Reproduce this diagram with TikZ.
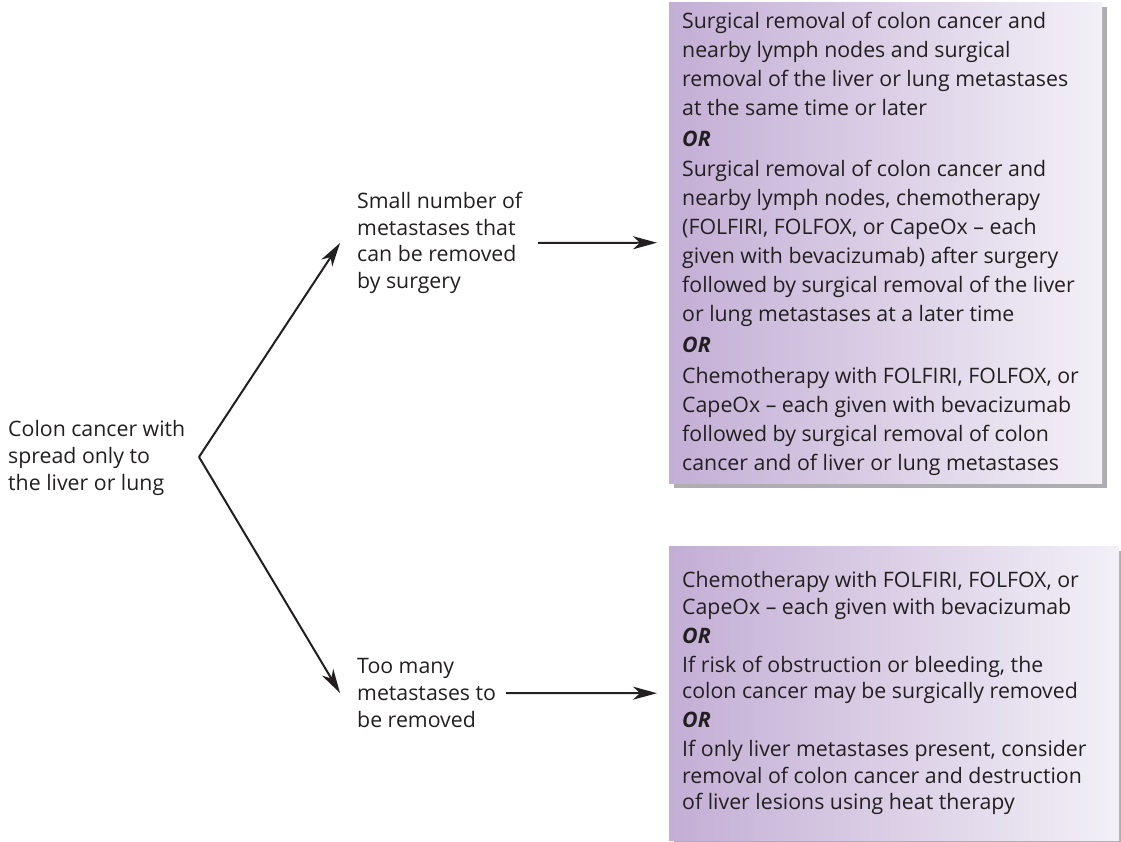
\documentclass[tikz,border=0pt]{standalone}
\usepackage{fontspec}
\setmainfont{Open Sans}
\usetikzlibrary{arrows.meta,shadows}
\definecolor{txt}{HTML}{231F20}
\definecolor{boxL}{HTML}{C3AED5}
\definecolor{boxR}{HTML}{F3F0F7}
\definecolor{shad}{HTML}{AEAEB2}
\newcommand{\orword}{\textbf{\textit{OR}}}
\begin{document}
\begin{tikzpicture}[x=1pt,y=-1pt,
  every node/.style={text=txt, inner sep=0pt},
  lbl/.style={align=left, anchor=west, font=\fontsize{21.3}{26.7}\selectfont},
  boxtxt/.style={align=left, anchor=west},
  treatbox/.style={draw=none, left color=boxL, right color=boxR, anchor=north west,
     drop shadow={shadow xshift=5pt, shadow yshift=-5pt, fill=shad, opacity=1}},
  conn/.style={draw=txt, line width=2pt, -{Stealth[length=24pt,width=13pt,inset=7pt]}}]
\useasboundingbox (0,0) rectangle (1121,842);
% boxes
\node[treatbox, minimum width=433pt, minimum height=481pt] (b1) at (669,2) {};
\node[treatbox, minimum width=450pt, minimum height=294pt] (b2) at (669,546) {};
\node[boxtxt, font=\fontsize{21.3}{29}\selectfont] (t1) at ([xshift=13pt,yshift=-1pt]b1.west) {Surgical removal of colon cancer and\\
nearby lymph nodes and surgical\\
removal of the liver or lung metastases\\
at the same time or later\\[1.75pt]
\orword\\[1.75pt]
Surgical removal of colon cancer and\\
nearby lymph nodes, chemotherapy\\
(FOLFIRI, FOLFOX, or CapeOx – each\\
given with bevacizumab) after surgery\\
followed by surgical removal of the liver\\
or lung metastases at a later time\\[1.75pt]
\orword\\[1.75pt]
Chemotherapy with FOLFIRI, FOLFOX, or\\
CapeOx – each given with bevacizumab\\
followed by surgical removal of colon\\
cancer and of liver or lung metastases};
\node[boxtxt, font=\fontsize{21.3}{26.5}\selectfont] (t2) at ([xshift=13pt]b2.west) {Chemotherapy with FOLFIRI, FOLFOX, or\\
CapeOx – each given with bevacizumab\\[2.4pt]
\orword\\[2.4pt]
If risk of obstruction or bleeding, the\\
colon cancer may be surgically removed\\[2.4pt]
\orword\\[2.4pt]
If only liver metastases present, consider\\
removal of colon cancer and destruction\\
of liver lesions using heat therapy};
% left labels
\node[lbl] (root) at (8,458) {Colon cancer with\\spread only to\\the liver or lung};
\node[lbl] (few) at (357,243) {Small number of\\metastases that\\can be removed\\by surgery};
\node[lbl] (many) at (357,693) {Too many\\metastases to\\be removed};
% connectors
\coordinate (v) at (199,457);
\coordinate (upTip) at (340,243);
\coordinate (lowTip) at (340,693);
\coordinate (a1) at (538,243);
\coordinate (a2) at (506,693);
\draw[conn] (v) -- (upTip);
\draw[conn] (v) -- (lowTip);
\draw[conn] (a1) -- ([xshift=-12pt]b1.west);
\draw[conn] (a2) -- ([xshift=-12pt]b2.west);
\end{tikzpicture}
\end{document}
